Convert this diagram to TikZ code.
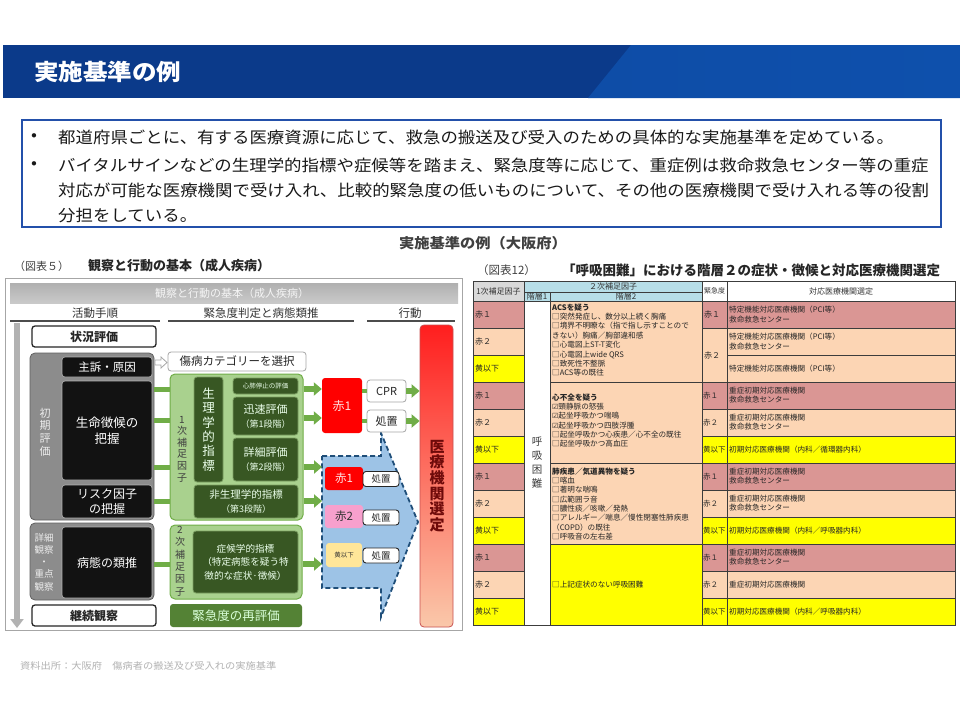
\documentclass[tikz,border=0pt]{standalone}
\usepackage{fontspec}
\setmainfont{Noto Sans CJK JP}
\newfontfamily\slidef[FakeStretch=1.09]{Noto Sans CJK JP}
\newfontfamily\dvf{DejaVu Sans}
\usetikzlibrary{arrows.meta,calc}
\definecolor{lgreen}{RGB}{169,209,142}
\definecolor{mgreen}{RGB}{112,173,71}
\definecolor{dgreen}{RGB}{56,87,35}
\definecolor{arrg}{RGB}{112,173,71}
\definecolor{rgreen}{RGB}{84,130,53}
\definecolor{tpink}{RGB}{218,150,148}
\definecolor{tpeach}{RGB}{252,213,180}
\definecolor{tyellow}{RGB}{255,255,0}
\definecolor{tgray}{RGB}{217,217,217}
\definecolor{tblue}{RGB}{183,222,232}
\definecolor{hdrL}{RGB}{11,58,138}
\definecolor{hdrR}{RGB}{14,80,172}
\definecolor{boxblue}{RGB}{35,80,170}
\definecolor{blueA}{RGB}{157,195,230}
\definecolor{blueD}{RGB}{31,78,121}
\definecolor{barTop}{RGB}{255,30,30}
\definecolor{barBot}{RGB}{250,200,170}
\definecolor{tline}{RGB}{60,60,60}
\newcommand\fsz[2]{\fontsize{#1}{#2}\selectfont}
\newcommand\ck{{\dvf\fontsize{7}{9}\selectfont ☑}}
\begin{document}
\begin{tikzpicture}[x=1pt,y=-1pt,
  every node/.style={inner sep=0pt},
  box/.style={inner sep=0pt, align=center, rounded corners=3pt},
  blk/.style={box, fill=black!93, draw=gray!60, line width=0.6pt, text=white},
  wbox/.style={box, fill=white, draw=black!85, line width=1.3pt, text=black!85},
  gbox/.style={box, fill=white, draw=gray!70, line width=0.8pt, text=black!85},
  grayblk/.style={rounded corners=5pt, fill={rgb,255:red,140;green,140;blue,140}, draw=gray!75!black, line width=0.8pt},
  lg/.style={rounded corners=5pt, fill=lgreen, draw=mgreen, line width=1pt},
  dg/.style={box, fill=dgreen, draw=lgreen!60!dgreen, line width=0.8pt, text=white!92!green},
  garrow/.style={draw=arrg, line width=6pt, -{Triangle[width=13pt,length=8pt]}},
  gline/.style={draw=arrg, line width=5pt},
  tl/.style={draw=tline, line width=0.6pt},
  ttxt/.style={anchor=west, font=\fsz{7.6}{9.2}, text=black!85, align=left},
]
\useasboundingbox (0,0) rectangle (960,720);
\fill[white] (0,0) rectangle (960,720);

% ---------- header ----------
\fill[hdrL] (3,45) rectangle (960,98);
\shade[left color=hdrR!85!hdrL, right color=hdrR] (631,45) -- (960,45) -- (960,98) -- (588,98) -- cycle;
\node[anchor=west, text=white, font=\slidef\bfseries\fsz{22.5}{24}] (title) at (34,72) {実施基準の例};

% ---------- bullet box ----------
\draw[boxblue, line width=2pt] (22,120) rectangle (941,227);
\begin{scope}[every node/.style={inner sep=0pt, anchor=west, font=\slidef\fsz{16}{20}, text=black!90}]
\node (b1) at (31,137) {•};
\node (l1) at (58,137) {都道府県ごとに、有する医療資源に応じて、救急の搬送及び受入のための具体的な実施基準を定めている。};
\node (b2) at (31,165) {•};
\node (l2) at (58,165) {バイタルサインなどの生理学的指標や症候等を踏まえ、緊急度等に応じて、重症例は救命救急センター等の重症};
\node (l3) at (58,190) {対応が可能な医療機関で受け入れ、比較的緊急度の低いものについて、その他の医療機関で受け入れる等の役割};
\node (l4) at (58,215) {分担をしている。};
\end{scope}

\node[font=\slidef\bfseries\fsz{14}{16}, text=black!75] (cap) at (483,243) {実施基準の例（大阪府）};

% ---------- left figure ----------
\node[anchor=west, font=\fsz{11}{13}, text=black!75] (cap5a) at (14,266) {（図表５）};
\node[anchor=west, font=\bfseries\fsz{13}{15}, text=black!85] (cap5b) at (88,266) {観察と行動の基本（成人疾病）};
\draw[gray!70, line width=1pt] (5,278) rectangle (462,630);
\shade[top color=gray!62, bottom color=gray!42] (10,283) rectangle (458,303);
\node[font=\fsz{11}{13}, text=gray!8] (band) at (232,293) {観察と行動の基本（成人疾病）};
\node[font=\fsz{11.5}{13}, text=black!80] (h1) at (95,313) {活動手順};
\node[font=\fsz{11.5}{13}, text=black!80] (h2) at (261,313) {緊急度判定と病態類推};
\node[font=\fsz{11.5}{13}, text=black!80] (h3) at (410,313) {行動};
\draw[line width=1.8pt, black!70] (10,321) -- (160,321);
\draw[line width=1.8pt, black!70] (168,321) -- (354,321);
\draw[line width=1.8pt, black!70] (367,321) -- (455,321);
\coordinate (vtop) at (17,323);
\coordinate (vbot) at (17,628);
\draw[line width=6pt, gray!60, -{Triangle[width=13pt,length=9pt]}] (vtop) -- (vbot);

\node[wbox, minimum width=124pt, minimum height=21pt, font=\bfseries\fsz{12}{14}] (jokyo) at (94,336.5) {状況評価};
\node[grayblk, minimum width=124pt, minimum height=167pt] (gray1) at (92,436.5) {};
\node[grayblk, minimum width=124pt, minimum height=77pt] (gray2) at (92,561.5) {};
\node[align=center, text=gray!15, font=\fsz{11}{12.6}] (shokiT) at (45,432) {初\\期\\評\\価};
\node[align=center, text=gray!15, font=\fsz{9.5}{12.3}] (shosaiT) at (44,562) {詳細\\観察\\・\\重点\\観察};
\node[blk, minimum width=90pt, minimum height=20pt, font=\fsz{11.5}{13}] (shuso) at (107,367) {主訴・原因};
\node[blk, minimum width=90pt, minimum height=99pt, font=\fsz{12.5}{16}] (seimei) at (107,430.5) {生命徴候の\\把握};
\node[blk, minimum width=90pt, minimum height=33pt, font=\fsz{12}{15}] (risk) at (107,501.5) {リスク因子\\の把握};
\node[blk, minimum width=90pt, minimum height=71pt, font=\fsz{12}{14}] (byotai) at (107,562.5) {病態の類推};
\node[wbox, minimum width=124pt, minimum height=21pt, font=\bfseries\fsz{12}{14}] (keizoku) at (94,615.5) {継続観察};

\node[gbox, minimum width=138pt, minimum height=19pt, font=\fsz{11.5}{13}] (cat) at (237,361.5) {傷病カテゴリーを選択};
\draw[gray!70, fill=white, line width=0.8pt] (155,360) -- (161,360) -- (161,357) -- (167,362.5) -- (161,368) -- (161,365) -- (155,365) -- cycle;

\node[lg, minimum width=133pt, minimum height=146pt] (g1) at (236.5,447) {};
\node[lg, minimum width=132pt, minimum height=74pt] (g2) at (236,562) {};
\node[align=center, text=black!75, font=\fsz{10}{11.6}] (g1T) at (182,449) {1\\次\\補\\足\\因\\子};
\node[align=center, text=black!75, font=\fsz{10}{12.4}] (g2T) at (180,561) {2\\次\\補\\足\\因\\子};
\node[dg, minimum width=29pt, minimum height=105pt, font=\fsz{12.5}{14.4}] (seiri) at (208.5,429.5) {生\\理\\学\\的\\指\\標};
\node[dg, minimum width=65pt, minimum height=16pt, font=\fsz{6.5}{8}] (shinpai) at (265.5,386) {心肺停止の評価};
\node[dg, minimum width=65pt, minimum height=38pt, font=\fsz{11}{14}] (jinsoku) at (265.5,416) {迅速評価\\{\fsz{9}{11}（第1段階）}};
\node[dg, minimum width=65pt, minimum height=43pt, font=\fsz{11}{14}] (shosai) at (265.5,459.5) {詳細評価\\{\fsz{9}{11}（第2段階）}};
\node[dg, minimum width=104pt, minimum height=33pt, font=\fsz{10.5}{13.5}] (hiseiri) at (246,501.5) {非生理学的指標\\{\fsz{9}{11}（第3段階）}};
\node[dg, minimum width=105pt, minimum height=62pt, font=\fsz{9.6}{13.5}] (shoko) at (245.5,562) {症候学的指標\\（特定病態を疑う特\\徴的な症状·徴候）};
\node[box, fill=rgreen, minimum width=132pt, minimum height=23pt, font=\fsz{12.5}{14}, text=white!85!green] (saihyo) at (236,615.5) {緊急度の再評価};

% connectors gray blocks -> green blocks
\foreach \yy in {389,420,467,501} { \draw[gline] (gray1.east |- 0,\yy) -- (g1.west |- 0,\yy); }
\draw[gline] (gray2.east |- 0,564) -- (g2.west |- 0,564);

% blue block arrow
\coordinate (blueL) at (322,456);
\draw[fill=blueA, draw=blueD, line width=1.8pt, dash pattern=on 5pt off 3pt] (322,456) -- (381,456) -- (381,433) -- (418,522) -- (381,617) -- (381,588) -- (322,588) -- cycle;

% red action bar
\node[rounded corners=4pt, minimum width=33pt, minimum height=302pt, top color=barTop, bottom color=barBot, draw={rgb,255:red,200;green,80;blue,80}, line width=0.8pt] (bar) at (436.5,476) {};
\node[align=center, font=\bfseries\fsz{15}{15.6}, text={rgb,255:red,110;green,10;blue,10}] (barT) at (437,486) {医\\療\\機\\関\\選\\定};

\node[box, fill=red, minimum width=40pt, minimum height=55pt, font=\fsz{12}{14}, text=white!88!red] (aka1) at (342,405.5) {赤1};
\node[gbox, minimum width=39pt, minimum height=22pt, font=\fsz{11}{13}] (cpr) at (386.5,391) {CPR};
\node[gbox, minimum width=39pt, minimum height=22pt, font=\fsz{11}{13}] (sho1) at (386.5,421) {処置};

\node[box, fill=red, minimum width=38pt, minimum height=23pt, font=\fsz{11.5}{13}, text=white!90!red] (aka1b) at (344,478.5) {赤1};
\node[box, fill={rgb,255:red,247;green,160;blue,205}, minimum width=38pt, minimum height=23pt, font=\fsz{11.5}{13}, text=black!80] (aka2) at (344,516.5) {赤2};
\node[box, fill={rgb,255:red,255;green,230;blue,153}, minimum width=36pt, minimum height=24pt, font=\fsz{6.5}{8}, text=black!80] (ki) at (344,555) {黄以下};
\node[wbox, line width=0.9pt, minimum width=36pt, minimum height=15pt, font=\fsz{9.5}{11}] (sho2) at (381,479) {処置};
\node[wbox, line width=0.9pt, minimum width=36pt, minimum height=15pt, font=\fsz{9.5}{11}] (sho3) at (381,517.5) {処置};
\node[wbox, line width=0.9pt, minimum width=36pt, minimum height=15pt, font=\fsz{9.5}{11}] (sho4) at (381,555.5) {処置};

% green arrows
\draw[garrow] (g1.east |- 0,389) -- (aka1.west |- 0,389);
\draw[garrow] (g1.east |- 0,418) -- (aka1.west |- 0,418);
\draw[garrow] (g1.east |- 0,467) -- (blueL |- 0,467);
\draw[garrow] (g1.east |- 0,501) -- (blueL |- 0,501);
\draw[garrow] (g2.east |- 0,564) -- (blueL |- 0,564);
\draw[draw=arrg, line width=4pt] (aka1.east |- cpr.west) -- (cpr.west);
\draw[draw=arrg, line width=4pt] (aka1.east |- sho1.west) -- (sho1.west);
\draw[garrow] (cpr.east) -- (bar.west |- cpr.east);
\draw[garrow] (sho1.east) -- (bar.west |- sho1.east);

% ---------- right table ----------
\node[anchor=west, font=\fsz{11.5}{13}, text=black!75] (cap12a) at (477,270) {（図表12）};
\node[anchor=west, font=\bfseries\fsz{13.5}{15}, text=black!85] (cap12b) at (562,270) {「呼吸困難」における階層２の症状・徴候と対応医療機関選定};

\fill[tgray] (473,281) rectangle (524,301);
\fill[tblue] (524,281) rectangle (702,301);
\fill[white] (702,281) rectangle (955,301);
\foreach \i/\ca/\cb in {0/tpink/tpink,1/tpeach/tpeach,2/tyellow/tpeach,3/tpink/tpink,4/tpeach/tpeach,5/tyellow/tyellow,6/tpink/tpink,7/tpeach/tpeach,8/tyellow/tyellow,9/tpink/tpink,10/tpeach/tpeach,11/tyellow/tyellow} {
  \fill[\ca] (473,{301+27*\i}) rectangle (524,{328+27*\i});
  \fill[\cb] (702,{301+27*\i}) rectangle (955,{328+27*\i});
}
\fill[tpeach] (550,301) rectangle (702,544);
\fill[tyellow] (550,544) rectangle (702,625);

\draw[tl] (473,281) rectangle (955,625);
\draw[tl] (524,281) -- (524,625);
\draw[tl] (550,292) -- (550,625);
\draw[tl] (702,281) -- (702,625);
\draw[tl] (727,281) -- (727,625);
\draw[tl] (524,292) -- (702,292);
\draw[tl] (473,301) -- (955,301);
\foreach \i in {1,...,11} {
  \draw[tl] (473,{301+27*\i}) -- (524,{301+27*\i});
  \draw[tl] (727,{301+27*\i}) -- (955,{301+27*\i});
}
\foreach \i in {1,3,4,5,6,7,8,9,10,11} { \draw[tl] (702,{301+27*\i}) -- (727,{301+27*\i}); }
\foreach \yy in {382,463,544} { \draw[tl] (550,\yy) -- (702,\yy); }

\node[font=\fsz{8}{9}, text=black!80] (th1) at (498.5,291) {1次補足因子};
\node[font=\fsz{8}{9}, text=black!80] (th2) at (613,286.5) {２次補足因子};
\node[font=\fsz{8}{9}, text=black!80] (th3) at (537,296.5) {階層1};
\node[font=\fsz{8}{9}, text=black!80] (th4) at (626,296.5) {階層2};
\node[font=\fsz{7}{8}, text=black!80] (th5) at (714.5,291) {緊急度};
\node[font=\fsz{8}{9}, text=black!80] (th6) at (841,291) {対応医療機関選定};

\foreach \i/\t in {0/赤１,1/赤２,2/黄以下,3/赤１,4/赤２,5/黄以下,6/赤１,7/赤２,8/黄以下,9/赤１,10/赤２,11/黄以下} {
  \node[anchor=west, font=\fsz{8}{9}, text=black!85] (ra\i) at (475,{314.5+27*\i}) {\t};
}
\node[anchor=west, font=\fsz{8}{9}, text=black!85] (rb0) at (704,314.5) {赤１};
\node[anchor=west, font=\fsz{8}{9}, text=black!85] (rb1) at (704,355) {赤２};
\foreach \i/\t in {3/赤１,4/赤２,5/黄以下,6/赤１,7/赤２,8/黄以下,9/赤１,10/赤２,11/黄以下} {
  \node[anchor=west, font=\fsz{7.5}{9}, text=black!85] (rb\i) at (703,{314.5+27*\i}) {\t};
}
\foreach \i/\t in {0/{特定機能対応医療機関（PCI等）\\救命救急センター},1/{特定機能対応医療機関（PCI等）\\救命救急センター},2/{特定機能対応医療機関（PCI等）},3/{重症初期対応医療機関\\救命救急センター},4/{重症初期対応医療機関\\救命救急センター},5/{初期対応医療機関（内科／循環器内科）},6/{重症初期対応医療機関\\救命救急センター},7/{重症初期対応医療機関\\救命救急センター},8/{初期対応医療機関（内科／呼吸器内科）},9/{重症初期対応医療機関\\救命救急センター},10/{重症初期対応医療機関},11/{初期対応医療機関（内科／呼吸器内科）}} {
  \node[ttxt] (rc\i) at (729,{314.5+27*\i}) {\t};
}
\node[align=center, font=\fsz{10.5}{14}, text=black!75] (kokyu) at (537,463) {呼\\吸\\困\\難};

\node[ttxt, anchor=north west, font=\fsz{7.6}{9.4}] (grp1) at (552,303.5) {\textbf{ACSを疑う}\\□突然発症し、数分以上続く胸痛\\□境界不明瞭な（指で指し示すことので\\きない）胸痛／胸部違和感\\□心電図上ST-T変化\\□心電図上wide QRS\\□致死性不整脈\\□ACS等の既往};
\node[ttxt, anchor=north west, font=\fsz{7.6}{9.3}] (grp2) at (552,393.5) {\textbf{心不全を疑う}\\\ck 頸静脈の怒張\\\ck 起坐呼吸かつ喘鳴\\\ck 起坐呼吸かつ四肢浮腫\\□起坐呼吸かつ心疾患／心不全の既往\\□起坐呼吸かつ高血圧};
\node[ttxt, anchor=north west, font=\fsz{7.6}{9.3}] (grp3) at (552,467.5) {\textbf{肺疾患／気道異物を疑う}\\□喀血\\□著明な喘鳴\\□広範囲ラ音\\□膿性痰／咳嗽／発熱\\□アレルギー／喘息／慢性閉塞性肺疾患\\（COPD）の既往\\□呼吸音の左右差};
\node[ttxt] (grp4) at (552,585) {□上記症状のない呼吸困難};

% ---------- footer ----------
\node[anchor=west, font=\slidef\fsz{9.4}{11}, text=gray!60] (src) at (20,666) {資料出所：大阪府　傷病者の搬送及び受入れの実施基準};
\end{tikzpicture}
\end{document}
